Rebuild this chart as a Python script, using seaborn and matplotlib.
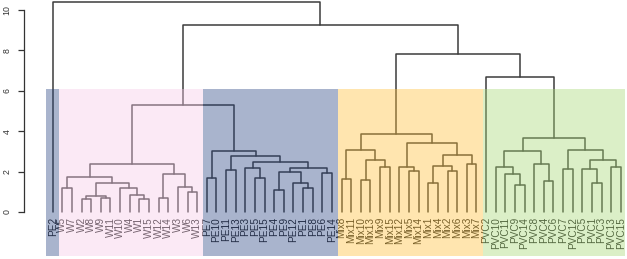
import matplotlib
matplotlib.use("Agg")
import matplotlib.pyplot as plt
from matplotlib.patches import Rectangle
import numpy as np
import pandas as pd
import seaborn as sns

# ---------------- data ----------------
leaves = ["PE2",
          "W5", "W7", "W2", "W8", "W9", "W11", "W10", "W4", "W1", "W15", "W12", "W14", "W3", "W6", "W13",
          "PE7", "PE10", "PE11", "PE13", "PE3", "PE5", "PE15", "PE4", "PE9", "PE12", "PE1", "PE8", "PE6", "PE14",
          "Mix8", "Mix11", "Mix10", "Mix13", "Mix9", "Mix15", "Mix12", "Mix5", "Mix14", "Mix1", "Mix4", "Mix2",
          "Mix6", "Mix3", "Mix7",
          "PVC2", "PVC10", "PVC11", "PVC9", "PVC14", "PVC8", "PVC4", "PVC6", "PVC7", "PVC12", "PVC5", "PVC1",
          "PVC3", "PVC13", "PVC15"]

# merges: (node name, child a, child b, merge height)
w_merges = [("w1", "W2", "W8", 0.63), ("w2", "W9", "W11", 0.68), ("w3", "w1", "w2", 0.79),
            ("w4", "W1", "W15", 0.63), ("w5", "W4", "w4", 0.83), ("w6", "W10", "w5", 1.18),
            ("w7", "w3", "w6", 1.42), ("w8", "W5", "W7", 1.18), ("w9", "w8", "w7", 1.73),
            ("w10", "W12", "W14", 0.71), ("w11", "W6", "W13", 0.97), ("w12", "W3", "w11", 1.22),
            ("w13", "w10", "w12", 1.86), ("w14", "w9", "w13", 2.40)]
pe_merges = [("p1", "PE7", "PE10", 1.66), ("p2", "PE11", "PE13", 2.07), ("p3", "PE5", "PE15", 1.66),
             ("p4", "PE3", "p3", 2.20), ("p5", "PE4", "PE9", 1.09), ("p6", "PE1", "PE8", 1.20),
             ("p7", "PE12", "p6", 1.45), ("p8", "p5", "p7", 1.96), ("p9", "PE6", "PE14", 1.91),
             ("p10", "p8", "p9", 2.17), ("p11", "p4", "p10", 2.49), ("p12", "p2", "p11", 2.77),
             ("p13", "p1", "p12", 3.01)]
mix_merges = [("m1", "Mix8", "Mix11", 1.65), ("m2", "Mix10", "Mix13", 1.60), ("m3", "Mix9", "Mix15", 2.22),
              ("m4", "m2", "m3", 2.55), ("m5", "m1", "m4", 3.08), ("m6", "Mix5", "Mix14", 2.04),
              ("m7", "Mix12", "m6", 2.22), ("m8", "Mix1", "Mix4", 1.43), ("m9", "Mix2", "Mix6", 2.01),
              ("m10", "m8", "m9", 2.30), ("m11", "Mix3", "Mix7", 2.37), ("m12", "m10", "m11", 2.83),
              ("m13", "m7", "m12", 3.44), ("m14", "m5", "m13", 3.85)]
pvc_merges = [("v1", "PVC9", "PVC14", 1.32), ("v2", "PVC11", "v1", 1.89), ("v3", "PVC10", "v2", 2.21),
              ("v4", "PVC4", "PVC6", 1.52), ("v5", "PVC8", "v4", 2.37), ("v6", "v3", "v5", 3.03),
              ("v7", "PVC7", "PVC12", 2.14), ("v8", "PVC1", "PVC3", 1.43), ("v9", "PVC5", "v8", 2.12),
              ("v10", "PVC13", "PVC15", 2.21), ("v11", "v9", "v10", 2.58), ("v12", "v7", "v11", 3.05),
              ("v13", "v6", "v12", 3.65), ("v14", "PVC2", "v13", 6.68)]
top_merges = [("wp", "w14", "p13", 5.28), ("mv", "m14", "v14", 7.80),
              ("top", "wp", "mv", 9.28), ("root", "PE2", "top", 10.38)]

group_sizes = [1, 15, 14, 15, 15]
group_colors = ["#2a4482", "#f7cae8", "#2a4482", "#ffc037", "#a7d975"]
rect_top = 6.1
y_ticks = [0, 2, 4, 6, 8, 10]

# ---------------- build segments ----------------
pos = {name: (float(i), 0.0) for i, name in enumerate(leaves)}
rows = []
for node, a, b, h in w_merges + pe_merges + mix_merges + pvc_merges + top_merges:
    xa, ha = pos[a]
    xb, hb = pos[b]
    for k, (x, y) in enumerate([(xa, ha), (xa, h), (xb, h), (xb, hb)]):
        rows.append({"node": node, "order": k, "x": x, "y": y})
    pos[node] = ((xa + xb) / 2.0, h)
seg = pd.DataFrame(rows)

# ---------------- plot ----------------
sns.set_theme(style="white")
plt.rcParams["font.family"] = ["Liberation Sans", "DejaVu Sans"]

W, H = 627, 259
fig = plt.figure(figsize=(W / 100, H / 100), dpi=100)
ax = fig.add_axes([24 / W, 0, 603 / W, 1])
ax.set_facecolor("white")

sns.lineplot(data=seg, x="x", y="y", units="node", estimator=None, sort=False,
             color="#3c3c3c", linewidth=1.1, ax=ax, legend=False, zorder=2)

for i, name in enumerate(leaves):
    ax.text(i, -0.24, name, rotation=90, ha="center", va="top", fontsize=7.2,
            color="#1e1e1e", zorder=2)

start = 0
for size, col in zip(group_sizes, group_colors):
    left = start - 0.5 + 0.16 if start > 0 else -0.72
    right = start + size - 1 + 0.5 + 0.16
    right = min(right, 59.45)
    ax.add_patch(Rectangle((left, -2.2), right - left, rect_top + 2.2, facecolor=col,
                           edgecolor="none", alpha=0.4, zorder=3, clip_on=False))
    start += size

px_per_unit = H / 12.82
ax.set_xlim(-2.98, 59.64)
ax.set_ylim(-47 / px_per_unit, (H - 47) / px_per_unit)

for s in ["top", "right", "bottom"]:
    ax.spines[s].set_visible(False)
ax.spines["left"].set_bounds(0, 10)
ax.spines["left"].set_color("#333333")
ax.spines["left"].set_linewidth(0.9)
ax.set_xticks([])
ax.set_yticks(y_ticks)
ax.set_yticklabels([str(t) for t in y_ticks], rotation=90, va="center", fontsize=6.3, color="#333333")
ax.tick_params(axis="y", left=True, length=4, width=0.9, color="#333333", pad=5)
ax.set_xlabel("")
ax.set_ylabel("")

fig.savefig("out.png", dpi=100)
